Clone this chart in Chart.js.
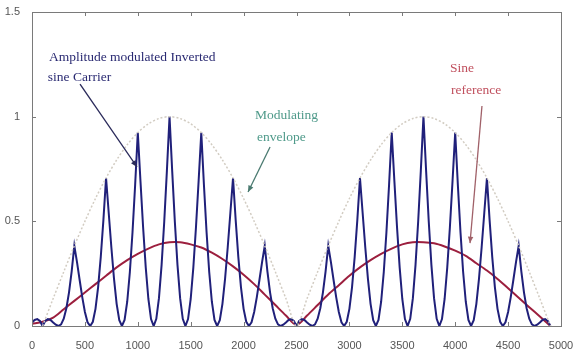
<!DOCTYPE html>
<html>
<head>
<meta charset="utf-8">
<script src="https://cdn.jsdelivr.net/npm/chart.js"></script>
<style>
  html, body { margin: 0; padding: 0; background: #ffffff; }
  #wrap { width: 575px; height: 352px; }
</style>
</head>
<body>
<div id="wrap"><canvas id="chart" width="575" height="352"></canvas></div>
<script>
// valores
const xTicks = [0, 500, 1000, 1500, 2000, 2500, 3000, 3500, 4000, 4500, 5000];
const yTicks = [0, 0.5, 1, 1.5];
const yTickLabels = ['0', '0.5', '1', '1.5'];

// portadora (azul), una muestra cada 25 unidades desde x = 0
const carrierStep = 25;
const carrierY = [
    0.017, 0.029, 0.033, 0.024, 0,
    0.024, 0.033, 0.029, 0.017, 0.006, 0,
    0.008, 0.035, 0.085, 0.161, 0.261, 0.383, 0.306, 0.221, 0.138, 0.067, 0.018, 0,
    0.020, 0.082, 0.186, 0.330, 0.507, 0.707, 0.541, 0.376, 0.226, 0.106, 0.028, 0,
    0.029, 0.116, 0.258, 0.448, 0.675, 0.924, 0.694, 0.473, 0.280, 0.129, 0.033, 0,
    0.034, 0.133, 0.292, 0.499, 0.741, 1.000, 0.741, 0.499, 0.292, 0.133, 0.034, 0,
    0.033, 0.129, 0.280, 0.473, 0.694, 0.924, 0.675, 0.448, 0.258, 0.116, 0.029, 0,
    0.028, 0.106, 0.226, 0.376, 0.541, 0.707, 0.507, 0.330, 0.186, 0.082, 0.020, 0,
    0.018, 0.067, 0.138, 0.221, 0.306, 0.383, 0.261, 0.161, 0.085, 0.035, 0.008, 0,
    0.006, 0.017, 0.029, 0.033, 0.024, 0,
    0.024, 0.033, 0.029, 0.017, 0.006, 0,
    0.008, 0.035, 0.085, 0.161, 0.261, 0.383, 0.306, 0.221, 0.138, 0.067, 0.018, 0,
    0.020, 0.082, 0.186, 0.330, 0.507, 0.707, 0.541, 0.376, 0.226, 0.106, 0.028, 0,
    0.029, 0.116, 0.258, 0.448, 0.675, 0.924, 0.694, 0.473, 0.280, 0.129, 0.033, 0,
    0.034, 0.133, 0.292, 0.499, 0.741, 1.000, 0.741, 0.499, 0.292, 0.133, 0.034, 0,
    0.033, 0.129, 0.280, 0.473, 0.694, 0.924, 0.675, 0.448, 0.258, 0.116, 0.029, 0,
    0.028, 0.106, 0.226, 0.376, 0.541, 0.707, 0.507, 0.330, 0.186, 0.082, 0.020, 0,
    0.018, 0.067, 0.138, 0.221, 0.306, 0.383, 0.261, 0.161, 0.085, 0.035, 0.008, 0,
    0.006, 0.017, 0.029, 0.033, 0.024, 0
];

// envolvente (gris punteada), cada 100 desde x = 100
const envelopeX = [100, 200, 300, 400, 500, 600, 700, 800, 900, 1000, 1100, 1200, 1300,
    1400, 1500, 1600, 1700, 1800, 1900, 2000, 2100, 2200, 2300, 2400, 2500,
    2600, 2700, 2800, 2900, 3000, 3100, 3200, 3300, 3400, 3500, 3600, 3700,
    3800, 3900, 4000, 4100, 4200, 4300, 4400, 4500, 4600, 4700, 4800, 4900];
const envelopeY = [0, 0.131, 0.259, 0.383, 0.5, 0.609, 0.707, 0.793, 0.866, 0.924, 0.966, 0.991, 1,
    0.991, 0.966, 0.924, 0.866, 0.793, 0.707, 0.609, 0.5, 0.383, 0.259, 0.131, 0,
    0.131, 0.259, 0.383, 0.5, 0.609, 0.707, 0.793, 0.866, 0.924, 0.966, 0.991, 1,
    0.991, 0.966, 0.924, 0.866, 0.793, 0.707, 0.609, 0.5, 0.383, 0.259, 0.131, 0];

// seno de referencia (rojo), cada 100 desde x = 0
const sineX = [0, 100, 200, 300, 400, 500, 600, 700, 800, 900, 1000, 1100, 1200, 1300,
    1400, 1500, 1600, 1700, 1800, 1900, 2000, 2100, 2200, 2300, 2400, 2500,
    2600, 2700, 2800, 2900, 3000, 3100, 3200, 3300, 3400, 3500, 3600, 3700,
    3800, 3900, 4000, 4100, 4200, 4300, 4400, 4500, 4600, 4700, 4800, 4900];
const sineY = [0.01, 0.02, 0.04, 0.08, 0.12, 0.16, 0.20, 0.24, 0.28, 0.315, 0.345, 0.37, 0.39, 0.40,
    0.40, 0.39, 0.375, 0.35, 0.32, 0.285, 0.245, 0.20, 0.15, 0.10, 0.05, 0.005,
    0.05, 0.10, 0.15, 0.195, 0.24, 0.28, 0.315, 0.345, 0.37, 0.39, 0.40, 0.40,
    0.395, 0.38, 0.36, 0.335, 0.30, 0.265, 0.225, 0.18, 0.135, 0.09, 0.045, 0];

// textos y flechas en unidades de los ejes
const notes = [
    { text: 'Amplitude modulated Inverted', x: 160, y: 1.285, color: '#2a2a72' },
    { text: 'sine Carrier', x: 150, y: 1.185, color: '#2a2a72' },
    { text: 'Modulating', x: 2108, y: 1.008, color: '#4f9a8a' },
    { text: 'envelope', x: 2127, y: 0.903, color: '#4f9a8a' },
    { text: 'Sine', x: 3951, y: 1.228, color: '#c0505e' },
    { text: 'reference', x: 3960, y: 1.123, color: '#c0505e' }
];
const arrows = [
    { from: [454, 1.156], to: [992, 0.76], color: '#2a2a5a' },
    { from: [2250, 0.855], to: [2042, 0.64], color: '#4a7a70' },
    { from: [4253, 1.051], to: [4140, 0.396], color: '#a06068' }
];

const frame = {
    id: 'frame',
    afterDraw(chart) {
        const { ctx, chartArea: a, scales } = chart;
        ctx.save();
        ctx.strokeStyle = '#7a7a7a';
        ctx.lineWidth = 1;
        ctx.strokeRect(a.left + 0.5, a.top + 0.5, a.right - a.left, a.bottom - a.top);
        ctx.beginPath();
        xTicks.forEach(v => {
            const px = Math.round(scales.x.getPixelForValue(v)) + 0.5;
            ctx.moveTo(px, a.bottom); ctx.lineTo(px, a.bottom - 4);
            ctx.moveTo(px, a.top); ctx.lineTo(px, a.top + 4);
        });
        yTicks.forEach(v => {
            const py = Math.round(scales.y.getPixelForValue(v)) + 0.5;
            ctx.moveTo(a.left, py); ctx.lineTo(a.left + 4, py);
            ctx.moveTo(a.right, py); ctx.lineTo(a.right - 4, py);
        });
        ctx.stroke();

        // flechas
        arrows.forEach(ar => {
            const x1 = scales.x.getPixelForValue(ar.from[0]), y1 = scales.y.getPixelForValue(ar.from[1]);
            const x2 = scales.x.getPixelForValue(ar.to[0]), y2 = scales.y.getPixelForValue(ar.to[1]);
            const ang = Math.atan2(y2 - y1, x2 - x1);
            ctx.strokeStyle = ar.color;
            ctx.fillStyle = ar.color;
            ctx.lineWidth = 1.3;
            ctx.beginPath();
            ctx.moveTo(x1, y1); ctx.lineTo(x2, y2);
            ctx.stroke();
            ctx.beginPath();
            ctx.moveTo(x2, y2);
            ctx.lineTo(x2 - 7 * Math.cos(ang - 0.4), y2 - 7 * Math.sin(ang - 0.4));
            ctx.lineTo(x2 - 7 * Math.cos(ang + 0.4), y2 - 7 * Math.sin(ang + 0.4));
            ctx.closePath();
            ctx.fill();
        });

        // textos
        ctx.font = '13.5px "Liberation Serif", "DejaVu Serif", serif';
        ctx.textBaseline = 'middle';
        ctx.textAlign = 'left';
        notes.forEach(n => {
            ctx.fillStyle = n.color;
            ctx.fillText(n.text, scales.x.getPixelForValue(n.x), scales.y.getPixelForValue(n.y));
        });
        ctx.restore();
    }
};

new Chart(document.getElementById('chart'), {
    type: 'line',
    data: {
        datasets: [
            {
                label: 'envelope',
                data: envelopeX.map((x, i) => ({ x: x, y: envelopeY[i] })),
                borderColor: '#d2ccc2',
                borderWidth: 1.5,
                borderDash: [2, 2],
                pointRadius: 0,
                tension: 0.3
            },
            {
                label: 'carrier',
                data: carrierY.map((y, i) => ({ x: i * carrierStep, y: y })),
                borderColor: '#20207a',
                borderWidth: 2,
                pointRadius: 0,
                tension: 0
            },
            {
                label: 'sine',
                data: sineX.map((x, i) => ({ x: x, y: sineY[i] })),
                borderColor: '#9c1f3e',
                borderWidth: 2,
                pointRadius: 0,
                tension: 0.3
            }
        ]
    },
    options: {
        responsive: false,
        animation: false,
        layout: { padding: { top: 12, right: 14, left: 0, bottom: 0 } },
        plugins: { legend: { display: false }, tooltip: { enabled: false } },
        scales: {
            x: {
                type: 'linear',
                min: 0,
                max: 5000,
                grid: { display: false },
                border: { display: false },
                afterFit(scale) {
                    scale.height = 26;
                    scale.paddingLeft = 0;
                    scale.paddingRight = 0;
                },
                afterBuildTicks(scale) { scale.ticks = xTicks.map(v => ({ value: v })); },
                ticks: {
                    padding: 5,
                    color: '#555',
                    font: { family: '"Liberation Sans", Arial, sans-serif', size: 11 },
                    maxRotation: 0,
                    autoSkip: false,
                    callback: (v) => String(v)
                }
            },
            y: {
                min: 0,
                max: 1.5,
                grid: { display: false },
                border: { display: false },
                afterFit(scale) { scale.width = 32; },
                afterBuildTicks(scale) { scale.ticks = yTicks.map(v => ({ value: v })); },
                ticks: {
                    padding: 4,
                    color: '#555',
                    font: { family: '"Liberation Sans", Arial, sans-serif', size: 11 },
                    callback: (v) => yTickLabels[yTicks.indexOf(v)]
                }
            }
        }
    },
    plugins: [frame]
});
</script>
</body>
</html>
